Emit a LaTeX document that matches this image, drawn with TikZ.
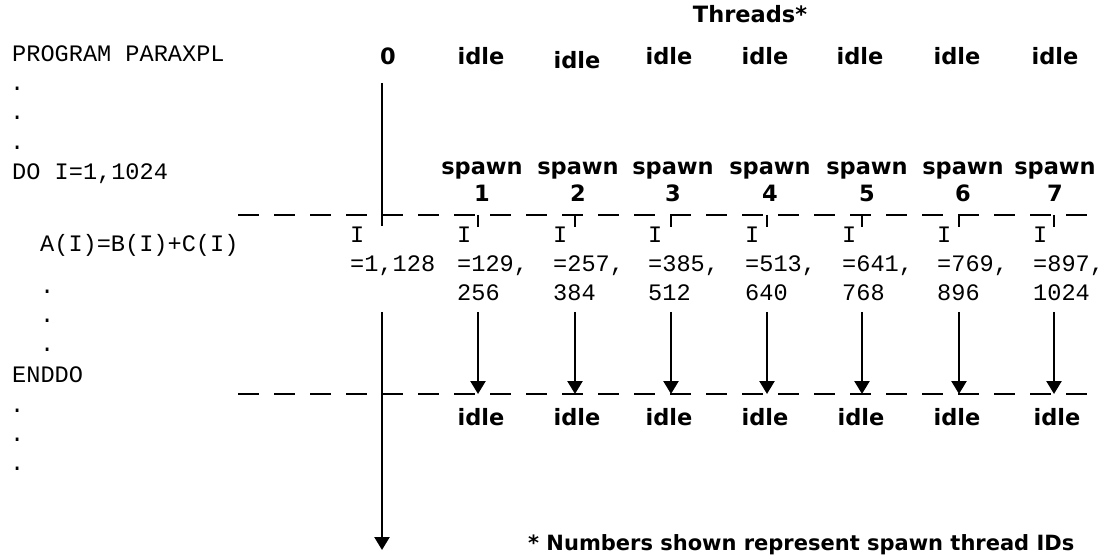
\documentclass[tikz,border=0pt]{standalone}
\usepackage{fontspec}
\setmainfont{DejaVu Sans}
\newfontfamily\monof{Liberation Mono}
\usetikzlibrary{arrows.meta}
\begin{document}
\begin{tikzpicture}[x=1pt,y=-1pt,
  mono/.style={font=\monof\fontsize{23.6}{23.6}\selectfont, inner sep=0pt, anchor=base west},
  lab/.style={font=\bfseries\fontsize{22.5}{22.5}\selectfont, inner sep=0pt, anchor=base},
  note/.style={font=\bfseries\fontsize{21}{21}\selectfont, inner sep=0pt, anchor=base west},
  dashline/.style={line width=2.5pt, dash pattern=on 21pt off 15pt},
  vline/.style={line width=2.5pt},
  arr/.style={vline, -{Triangle[width=15pt,length=13pt]}},
]
\useasboundingbox (0,0) rectangle (1112,556);

% program text
\node[mono] (prog) at (12,62) {PROGRAM PARAXPL};
\node[mono] (d1) at (10,91) {.};
\node[mono] (d2) at (10,120) {.};
\node[mono] (d3) at (10,150) {.};
\node[mono] (doi) at (12,180) {DO I=1,1024};
\node[mono] (body) at (40,252) {A(I)=B(I)+C(I)};
\node[mono] (d4) at (40,294) {.};
\node[mono] (d5) at (40,323) {.};
\node[mono] (d6) at (40,352) {.};
\node[mono] (enddo) at (12,382) {ENDDO};
\node[mono] (d7) at (10,412) {.};
\node[mono] (d8) at (10,441) {.};
\node[mono] (d9) at (10,470) {.};

% header
\node[lab] (threads) at (750,23) {Threads*};
\node[lab] (t0) at (388,65) {0};
\foreach \x/\y [count=\i] in {481/65,577/69,669/65,765/65,860/65,957/65,1055/65}
  \node[lab] (top\i) at (\x,\y) {idle};

% spawn labels
\foreach \x [count=\i] in {482,578,673,770,867,963,1055} {
  \node[lab] (sp\i) at (\x,175) {spawn};
  \node[lab] (sn\i) at (\x,202) {\i};
}

% dashed lines
\coordinate (la) at (238,215);
\coordinate (ra) at (1092,215);
\coordinate (lb) at (238,394);
\coordinate (rb) at (1092,394);
\draw[dashline] (la) -- (ra);
\draw[dashline] (lb) -- (rb);

% master thread
\coordinate (m0) at (382,83);
\coordinate (m1) at (382,226);
\coordinate (m2) at (382,312);
\coordinate (m3) at (382,550);
\draw[vline] (m0) -- (m1);
\draw[arr] (m2) -- (m3);

% iteration ranges
\node[mono] (i0a) at (350,243) {I};
\node[mono] (i0b) at (350,272) {=1,128};
\foreach \x/\a/\b [count=\i] in {457/129/256,553/257/384,648/385/512,745/513/640,842/641/768,937/769/896,1033/897/1024} {
  \node[mono] (ia\i) at (\x,243) {I};
  \node[mono] (ib\i) at (\x,272) {=\a,};
  \node[mono] (ic\i) at (\x,301) {\b};
}

% spawned threads
\foreach \x [count=\i] in {478,575,671,767,862,959,1054} {
  \coordinate (ts\i) at (\x,215);
  \coordinate (te\i) at (\x,227);
  \coordinate (as\i) at (\x,312);
  \coordinate (ae\i) at (\x,394);
  \draw[vline] (ts\i) -- (te\i);
  \draw[arr] (as\i) -- (ae\i);
}

% bottom idle
\foreach \x [count=\i] in {481,577,669,765,861,957,1057}
  \node[lab] (bot\i) at (\x,425) {idle};

\node[note] (fn) at (528,550) {* Numbers shown represent spawn thread IDs};
\end{tikzpicture}
\end{document}
